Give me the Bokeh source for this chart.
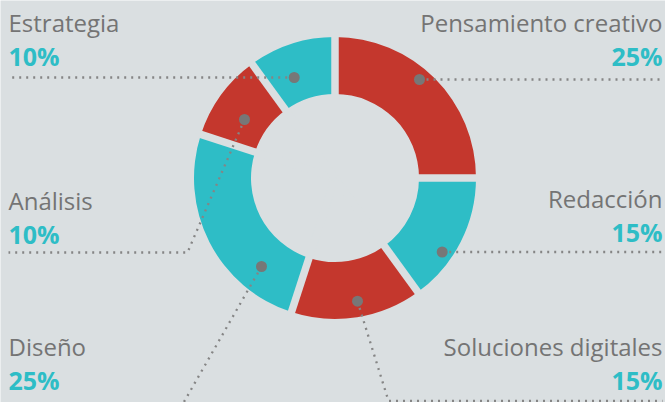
import math
from bokeh.plotting import figure
from bokeh.models import Range1d
from bokeh.core.properties import value
from bokeh.embed import file_html
from bokeh.resources import INLINE

# ---- data ----
categories = ["Pensamiento creativo", "Redacción", "Soluciones digitales",
              "Diseño", "Análisis", "Estrategia"]
percents = [25, 15, 15, 25, 10, 10]
pct_labels = ["25%", "15%", "15%", "25%", "10%", "10%"]

# ---- style / layout ----
W, H = 665, 402
BG = "#dadfe1"
RED = "#c4372d"
TEAL = "#2ebdc6"
GRAY_TXT = "#747474"
DOT = "#777777"
slice_colors = [RED, TEAL, RED, TEAL, RED, TEAL]
CX, CY = 334.5, H - 177.5
R_IN, R_OUT = 84, 141
GAP = 7.5
FONT = "Open Sans"
TXT_SHIFT = 11  # renderer baseline correction

def sy(y):
    return H - y

# label anchors (screen coords): x, label baseline, align
label_pos = [(662, 33, "right"), (662, 209, "right"), (662, 357, "right"),
             (8, 357, "left"), (8, 211, "left"), (8, 33, "left")]
PCT_DY = 33
# dot anchors (screen coords)
dot_pos = [(419, 79), (441.7, 251.5), (357, 300.7), (261, 266), (244, 119), (293.7, 77)]
# leader paths continuing from the dot (screen coords)
leader_rest = [[(662, 79)], [(662, 251.5)], [(388, 400.5), (662, 400.5)],
               [(182, 404)], [(187, 252), (8, 252)], [(8, 77)]]

p = figure(width=W, height=H, output_backend="svg", toolbar_location=None,
           x_range=Range1d(0, W), y_range=Range1d(0, H), min_border=0)
p.axis.visible = False
p.grid.visible = False
p.background_fill_color = BG
p.border_fill_color = BG
p.outline_line_color = None

# wedges
total = sum(percents)
cum = 0
starts, ends, bounds = [], [], []
for v in percents:
    a0 = math.radians(90 - 360 * cum / total)
    cum += v
    a1 = math.radians(90 - 360 * cum / total)
    starts.append(a1)
    ends.append(a0)
    bounds.append(a0)
p.annular_wedge(x=[CX] * len(percents), y=[CY] * len(percents), inner_radius=R_IN,
                outer_radius=R_OUT, start_angle=starts, end_angle=ends,
                fill_color=slice_colors, line_color=None, direction="anticlock")

# gaps between slices
for a in bounds:
    p.line([CX, CX + (R_OUT + 5) * math.cos(a)], [CY, CY + (R_OUT + 5) * math.sin(a)],
           line_color=BG, line_width=GAP)

# leader lines
for (dx, dy), rest in zip(dot_pos, leader_rest):
    xs = [dx] + [q[0] for q in rest]
    ys = [sy(dy)] + [sy(q[1]) for q in rest]
    p.line(xs, ys, line_color="#858585", line_width=2.3, line_dash="2 5")

p.scatter([d[0] for d in dot_pos], [sy(d[1]) for d in dot_pos], size=11,
          fill_color=DOT, line_color=None)

# labels
for name, pct, (lx, ly, al) in zip(categories, pct_labels, label_pos):
    p.text([lx], [sy(ly - TXT_SHIFT)], text=[name], text_font=value(FONT),
           text_font_size="24px", text_color=GRAY_TXT, text_align=al,
           text_baseline="alphabetic")
    p.text([lx], [sy(ly + PCT_DY - TXT_SHIFT)], text=[pct], text_font=value(FONT),
           text_font_size="25px", text_font_style="bold", text_color=TEAL,
           text_align=al, text_baseline="alphabetic")

open("out.html", "w").write(file_html(p, INLINE))
